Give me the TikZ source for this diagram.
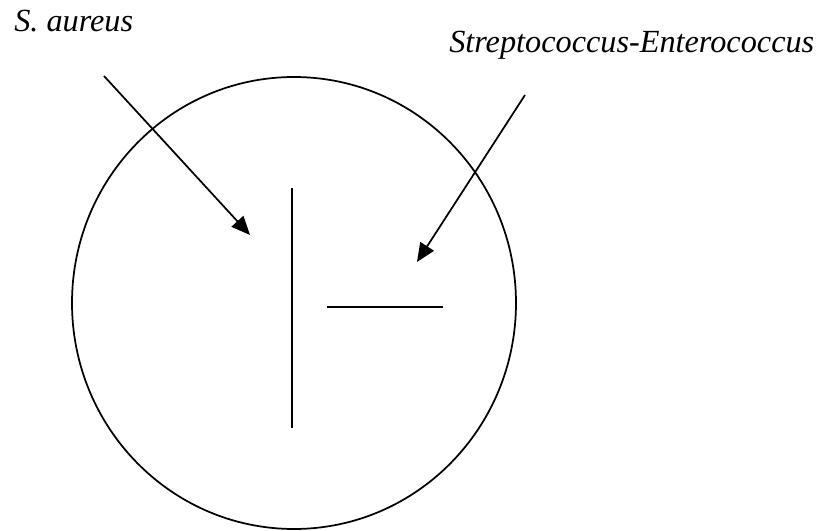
\documentclass[tikz,border=0pt]{standalone}
\usepackage{fontspec}
\setmainfont{Liberation Serif}
\usetikzlibrary{arrows.meta}
\tikzset{
  plate/.style={draw=black,line width=1.3pt},
  streak/.style={draw=black,line width=1.5pt},
  pointer/.style={draw=black,line width=1.3pt,-{Triangle[length=14pt,width=12pt]}},
  species/.style={font=\fontsize{24.2}{29}\selectfont\itshape,inner sep=0pt,anchor=base west}
}

\begin{document}
\begin{tikzpicture}[x=0.75pt,y=-0.75pt]
\path[use as bounding box] (0,0) rectangle (818,531);
\fill[white] (0,0) rectangle (818,531);
% agar plate
\draw[plate] (294,303) ellipse (222 and 226);
% streaks
\coordinate (saTop) at (292,188);
\coordinate (saBot) at (292,428);
\draw[streak] (saTop) -- (saBot);
\coordinate (seLeft) at (327,307);
\coordinate (seRight) at (443,307);
\draw[streak] (seLeft) -- (seRight);
% labels
\node[species] (saLabel) at (14,32) {S. aureus};
\node[species] (seLabel) at (449,53) {Streptococcus-Enterococcus};
% arrows
\coordinate (saFrom) at (104,76);
\coordinate (saTip) at (250,235);
\coordinate (seFrom) at (525,95);
\coordinate (seTip) at (417,262);
\draw[pointer] (saFrom) -- (saTip);
\draw[pointer] (seFrom) -- (seTip);
\end{tikzpicture}
\end{document}
